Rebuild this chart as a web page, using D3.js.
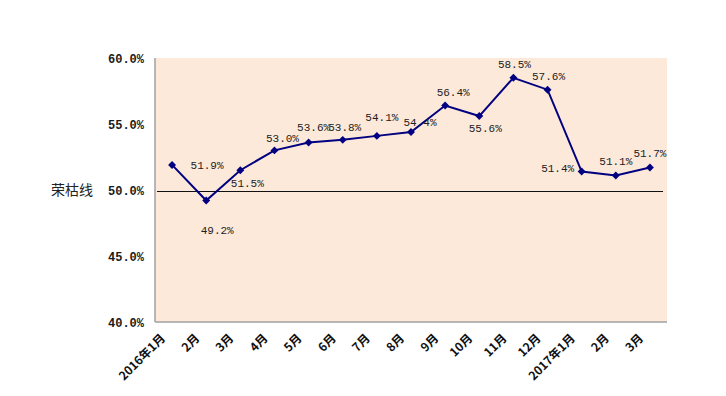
<!DOCTYPE html>
<html lang="zh">
<head>
    <meta charset="UTF-8">
    <script src="https://cdn.jsdelivr.net/npm/d3@7/dist/d3.min.js"></script>
    <title>荣枯线</title>
</head>
<style type="text/css">
    body{ margin:0; background:white; }
    text.tick{
        font-family:"Liberation Mono","DejaVu Sans Mono",monospace;
        font-size:12px;
        font-weight:bold;
        fill:#1a1a1a;
    }
    text.xlab{
        font-family:"Noto Sans CJK SC","DejaVu Sans",sans-serif;
        font-size:12px;
        font-weight:bold;
        fill:#111;
    }
    text.val{
        font-family:"Liberation Mono","DejaVu Sans Mono",monospace;
        font-size:11px;
        fill:#222;
    }
    text.ytitle{
        font-family:"Noto Sans CJK SC",sans-serif;
        font-size:14px;
        fill:#222;
    }
</style>
<body>
<div id="chart"></div>
<script>

    // data
    var months = ["2016年1月","2月","3月","4月","5月","6月","7月","8月","9月","10月","11月","12月","2017年1月","2月","3月"];
    var values = [51.9, 49.2, 51.5, 53.0, 53.6, 53.8, 54.1, 54.4, 56.4, 55.6, 58.5, 57.6, 51.4, 51.1, 51.7];
    var yTicks = [40, 45, 50, 55, 60];
    var baseline = 50;

    // label offsets (like the excel chart, labels are nudged by hand)
    var labelDx = [35, 11, 7, 8, 5, 2, 5, 9, 8, 6, 1, 1, -24, 0, 0];
    var labelDy = [0, 30, 13, -12, -15, -13, -19, -10, -13, 12, -14, -14, -3, -14, -14];

    var W = 726, H = 396;
    var plot = {left:155, right:667, top:58, bottom:322};

    var svg = d3.select("#chart").append("svg")
        .attr("width", W)
        .attr("height", H);

    var x = d3.scalePoint()
        .domain(d3.range(months.length))
        .range([plot.left, plot.right])
        .padding(0.5);

    var y = d3.scaleLinear()
        .domain([40, 60])
        .range([plot.bottom, plot.top]);

    // plot background
    svg.append("rect")
        .attr("x", plot.left)
        .attr("y", plot.top)
        .attr("width", plot.right - plot.left)
        .attr("height", plot.bottom - plot.top)
        .attr("fill", "#fde9d9");

    // axes lines
    svg.append("line")
        .attr("x1", plot.left).attr("x2", plot.left)
        .attr("y1", plot.top).attr("y2", plot.bottom)
        .attr("stroke", "#a0a0a0").attr("stroke-width", 1.5);
    svg.append("line")
        .attr("x1", plot.left).attr("x2", plot.right)
        .attr("y1", plot.bottom).attr("y2", plot.bottom)
        .attr("stroke", "#a0a0a0").attr("stroke-width", 1.5);

    // 荣枯线 50%
    svg.append("line")
        .attr("x1", plot.left + 2).attr("x2", plot.right - 4)
        .attr("y1", y(baseline) + 1.5).attr("y2", y(baseline) + 1.5)
        .attr("stroke", "#111").attr("stroke-width", 1);

    // y tick labels
    svg.selectAll(".tick").data(yTicks).enter()
        .append("text")
        .attr("class", "tick")
        .attr("x", plot.left - 11)
        .attr("y", d => y(d) + 1)
        .attr("dy", "0.35em")
        .attr("text-anchor", "end")
        .text(d => d.toFixed(1) + "%");

    svg.append("text")
        .attr("class", "ytitle")
        .attr("x", 51)
        .attr("y", y(baseline))
        .attr("dy", "0.35em")
        .text("荣枯线");

    // x labels
    svg.selectAll(".xlab").data(months).enter()
        .append("text")
        .attr("class", "xlab")
        .attr("text-anchor", "end")
        .attr("transform", (d, i) => "translate(" + (x(i) - 6) + "," + (plot.bottom + 17) + ") rotate(-45)")
        .text(d => d);

    // line + markers
    var line = d3.line()
        .x((d, i) => x(i))
        .y(d => y(d));

    svg.append("path")
        .datum(values)
        .attr("d", line)
        .attr("fill", "none")
        .attr("stroke", "#000080")
        .attr("stroke-width", 2);

    svg.selectAll(".pt").data(values).enter()
        .append("path")
        .attr("class", "pt")
        .attr("d", d3.symbol().type(d3.symbolDiamond2).size(40))
        .attr("transform", (d, i) => "translate(" + x(i) + "," + y(d) + ")")
        .attr("fill", "#000080");

    // value labels
    svg.selectAll(".val").data(values).enter()
        .append("text")
        .attr("class", "val")
        .attr("text-anchor", "middle")
        .attr("x", (d, i) => x(i) + labelDx[i])
        .attr("y", (d, i) => y(d) + labelDy[i])
        .attr("dy", "0.35em")
        .text(d => d.toFixed(1) + "%");

</script>
</body>
</html>
